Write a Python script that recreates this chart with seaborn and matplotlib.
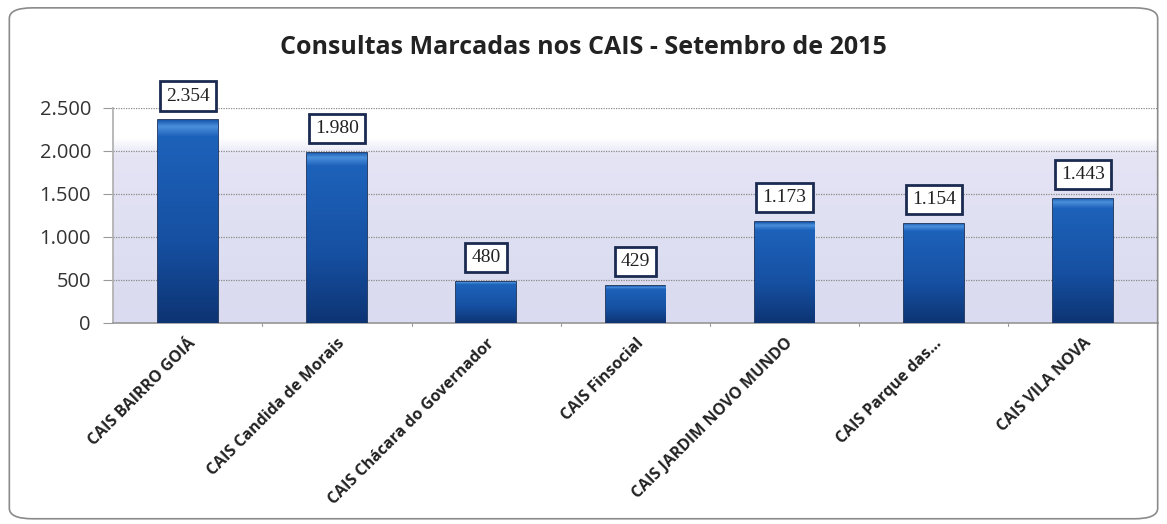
import numpy as np
import matplotlib
matplotlib.use("Agg")
import matplotlib.pyplot as plt
from matplotlib.patches import FancyBboxPatch
from matplotlib.ticker import FuncFormatter, FixedLocator
import seaborn as sns
import pandas as pd

categorias = ["CAIS BAIRRO GOIÁ", "CAIS Candida de Morais", "CAIS Chácara do Governador",
              "CAIS Finsocial", "CAIS JARDIM NOVO MUNDO", "CAIS Parque das...", "CAIS VILA NOVA"]
consultas = [2354, 1980, 480, 429, 1173, 1154, 1443]
yticks = [0, 500, 1000, 1500, 2000, 2500]
titulo = "Consultas Marcadas nos CAIS - Setembro de 2015"

sns.set_theme(style="white")
plt.rcParams["font.family"] = ["Open Sans", "DejaVu Sans"]

def milhar(v, pos=None):
    return f"{int(v):,}".replace(",", ".")

df = pd.DataFrame({"cais": categorias, "consultas": consultas})

fig = plt.figure(figsize=(11.67, 5.24), dpi=100)
ax = fig.add_axes([0.097, 0.384, 0.895, 0.41])

# fundo em degradê (lilás embaixo, branco acima de ~2000)
grad = np.linspace(0, 1, 256).reshape(-1, 1)
cmap_bg = matplotlib.colors.LinearSegmentedColormap.from_list(
    "bg", [(0, "#dadaf0"), (0.78, "#e4e4f5"), (0.86, "#ffffff"), (1, "#ffffff")])
ax.imshow(grad, cmap=cmap_bg, aspect="auto", extent=[-0.5, len(categorias) - 0.5, 0, 2500],
          origin="lower", zorder=0)

sns.barplot(data=df, x="cais", y="consultas", color="#1b58ae", width=0.4,
            edgecolor="#0a2550", linewidth=1.2, ax=ax, zorder=3)

# degradê nas barras
cmap_bar = matplotlib.colors.LinearSegmentedColormap.from_list(
    "bar", [(0, "#0d3473"), (0.4, "#1650a2"), (0.92, "#1d62ba"), (0.97, "#4a90dc"), (1, "#1a5aae")])
for p in ax.patches:
    x0, y0, w, h = p.get_x(), p.get_y(), p.get_width(), p.get_height()
    im = ax.imshow(grad, cmap=cmap_bar, aspect="auto", extent=[x0, x0 + w, y0, y0 + h],
                   origin="lower", zorder=3.5)
    im.set_clip_path(p)

ax.set_xlim(-0.5, len(categorias) - 0.5)
ax.set_ylim(0, 2500)
ax.yaxis.set_major_locator(FixedLocator(yticks))
ax.yaxis.set_major_formatter(FuncFormatter(milhar))
ax.grid(axis="y", color="#8a8a8a", linestyle=(0, (1, 1)), linewidth=0.9, zorder=1)
ax.set_xlabel("")
ax.set_ylabel("")
for s in ["top", "right"]:
    ax.spines[s].set_visible(False)
ax.spines["left"].set_color("#b0b0b0")
ax.spines["bottom"].set_color("#9a9a9a")
ax.tick_params(axis="y", labelsize=14.5, labelcolor="#333333", length=7, width=0.8,
               color="#9a9a9a", pad=9, left=True)

ax.set_xticks(range(len(categorias)))
ax.set_xticklabels(categorias, rotation=45, ha="right", rotation_mode="anchor",
                   fontsize=11.5, fontweight="bold", color="#222222")
ax.tick_params(axis="x", length=0, pad=9)
# marcas entre categorias
for x in np.arange(0.5, len(categorias) - 0.5, 1.0):
    ax.plot([x, x], [0, -35], color="#9a9a9a", lw=0.8, clip_on=False, zorder=2)

for i, v in enumerate(consultas):
    ax.annotate(milhar(v), (i, v), xytext=(0, 17.5), textcoords="offset points",
                ha="center", va="center", fontsize=14, family=["Liberation Serif"],
                color="#222222", zorder=5, annotation_clip=False,
                bbox=dict(boxstyle="square,pad=0.32", fc="white", ec="#1a2a50", lw=2))

fig.text(0.5, 0.91, titulo, ha="center", va="center", fontsize=18, fontweight="bold", color="#222222")

moldura = FancyBboxPatch((0.008, 0.01), 0.984, 0.975, boxstyle="round,pad=0,rounding_size=0.02",
                         transform=fig.transFigure, fc="none", ec="#8a8a8a", lw=1.2)
fig.patches.append(moldura)

fig.savefig("out.png", dpi=100, facecolor="white")
